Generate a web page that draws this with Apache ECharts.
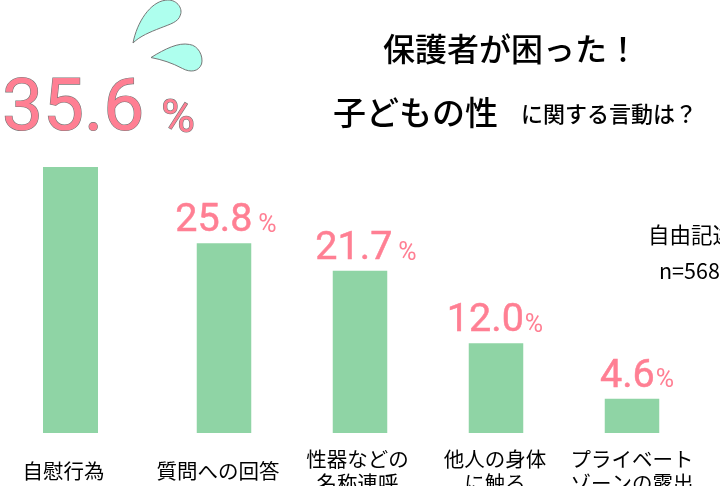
<!DOCTYPE html>
<html><head><meta charset="utf-8">
<style>html,body{margin:0;padding:0;background:#fff}#c{width:720px;height:486px}</style>
<script src="https://cdn.jsdelivr.net/npm/echarts@6/dist/echarts.min.js"></script>
</head><body><div id="c"></div>
<script>
const categories = ['自慰行為','質問への回答','性器などの\n名称連呼','他人の身体\nに触る','プライベート\nゾーンの露出'];
const barValues = [35.6,25.4,21.7,12.0,4.6];
const labelValues = ['35.6','25.8','21.7','12.0','4.6'];

const JP = '"Noto Sans CJK JP"';
const NUM = 'Roboto';
const PINK = '#FF7F93', GREEN = '#8FD4A5';

const chart = echarts.init(document.getElementById('c'), null, {renderer:'canvas'});
const yAxisBase = {type:'value',min:0,max:35.6,show:false};
function xAxis(gridIndex, cats, shifts){
  return {type:'category',gridIndex,data:cats.map((c,i)=>({
      value:c,
      textStyle:{lineHeight:c.includes('\n')?24:48,padding:[0,shifts[i],0,0]}
    })),
    axisLine:{show:false},axisTick:{show:false},
    axisLabel:{interval:0,margin:14,fontFamily:JP,fontSize:20.5,color:'#000',verticalAlign:'top',lineHeight:24}};
}
function labelCfg(i, big, off){
  return {show:true,position:'top',offset:off,
    formatter:'{n|'+labelValues[i]+'}{g|}{p|%}',
    rich: big ? {
      n:{fontFamily:NUM,fontSize:73,color:PINK,textBorderColor:'#777',textBorderWidth:1.2},
      g:{width:17},
      p:{fontFamily:NUM,fontSize:46,color:PINK,textBorderColor:'#777',textBorderWidth:1.2,verticalAlign:'bottom',padding:[0,0,5,0]}
    } : {
      n:{fontFamily:NUM,fontSize:39.5,color:PINK,textBorderColor:PINK,textBorderWidth:0.5},
      g:{width: i<3?6:1},
      p:{fontFamily:NUM,fontSize:25,color:PINK,verticalAlign:'bottom',padding:[0,0,3,0]}
    }};
}
const offs=[[28,-14],[2,3],[6,3],[-1,3],[5,3]];
function txt(text,x,y,size,w){
  return {type:'text',style:{text,x,y,fontFamily:JP,fontSize:size,fontWeight:w||500,fill:'#000',verticalAlign:'middle',align:'left'},silent:true};
}
const dropPaths = [
  {d:'M133 43 C137 22 150 2 165 0 C176 -2 183 8 180 15 C178 22 170 24 160 28 C150 32 140 36 133 43Z',x:133,y:0,width:48,height:43},
  {d:'M151 57 C165 49 178 43 189 45 C198 46 203 56 201 63 C198 70 190 71 182 67 C172 62 162 59 151 57Z',x:151,y:44,width:51,height:27}
];
chart.setOption({
  animation:false,backgroundColor:'#fff',
  grid:[{left:16,width:109,top:167,height:266,outerBoundsMode:'none'},{left:156,width:544,top:167,height:266,outerBoundsMode:'none'}],
  xAxis:[xAxis(0,categories.slice(0,1),[14]),xAxis(1,categories.slice(1),[12,5,2,0])],
  yAxis:[{...yAxisBase,gridIndex:0},{...yAxisBase,gridIndex:1}],
  series:[
    {type:'bar',xAxisIndex:0,yAxisIndex:0,barWidth:55,itemStyle:{color:GREEN},
     data:[{value:barValues[0],label:labelCfg(0,true,offs[0])}]},
    {type:'bar',xAxisIndex:1,yAxisIndex:1,barWidth:54.5,itemStyle:{color:GREEN},
     data:barValues.slice(1).map((v,k)=>({value:v,label:labelCfg(k+1,false,offs[k+1])}))},
    {type:'custom',coordinateSystem:'none',silent:true,data:[0,1],
     renderItem:(p)=>{const s=dropPaths[p.dataIndex];return {type:'path',
        shape:{pathData:s.d,x:s.x,y:s.y,width:s.width,height:s.height,layout:'cover'},
        style:{fill:'#AEFFEE',stroke:'#777',lineWidth:1}};}}
  ],
  graphic:[
    txt('保護者が困った！',383,49,32),
    txt('子どもの性',333,112,33),
    txt('に関する言動は？',521,114,22),
    txt('自由記述',648,235,21.5,400),
    txt('n=568',659,271,21.5,400)
  ]
});
</script></body></html>
